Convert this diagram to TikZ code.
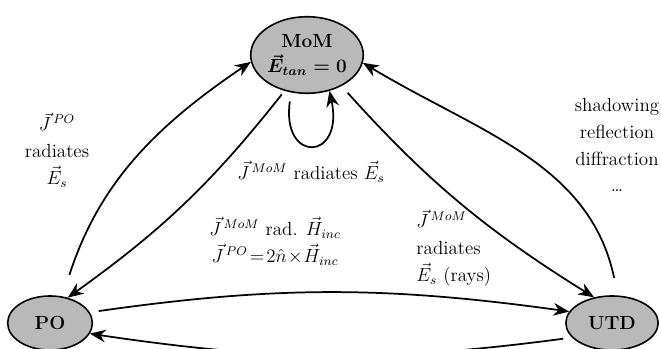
\documentclass[tikz,border=0pt]{standalone}
\usepackage{amsmath,amssymb}
\usepackage{tikz}
\usetikzlibrary{arrows.meta,shapes,positioning,calc}

\begin{document}
\begin{tikzpicture}[
    x=0.0222cm, y=-0.0222cm,
    solver/.style={ellipse, draw=black, fill=gray!55, line width=1pt, inner sep=0pt, align=center, font=\fontsize{12}{16}\selectfont\bfseries},
    lbl/.style={align=center, inner sep=1pt, font=\fontsize{12}{17}\selectfont},
    >={Stealth[length=10pt,width=8pt]},
    line width=1.1pt
]
\useasboundingbox (0,0) rectangle (661,349);

% --- Solvers ---
\node[solver, minimum width=2.05cm, minimum height=1.7cm] (mom) at (307,55) {MoM\\$\boldsymbol{\vec{E}_{tan}=0}$};
\node[solver, minimum width=1.88cm, minimum height=1.2cm] (po) at (50,323) {PO};
\node[solver, minimum width=2.05cm, minimum height=1.2cm] (utd) at (612,323) {UTD};

% --- Labels ---
\node[lbl] (lpo) at (57,150) {$\vec{J}^{\,PO}$\\radiates\\$\vec{E}_s$};
\node[lbl] (lmom) at (311,172) {$\vec{J}^{\,MoM}$ radiates $\vec{E}_s$};
\node[lbl] (lmompo) at (275,241) {$\vec{J}^{\,MoM}$ rad. $\vec{H}_{inc}$\\$\vec{J}^{\,PO}\!=\!2\hat{n}\!\times\!\vec{H}_{inc}$};
\node[lbl, align=left, anchor=west] (lmomutd) at (414,248) {$\vec{J}^{\,MoM}$\\radiates\\$\vec{E}_s$ (rays)};
\node[lbl] (lutd) at (617,145) {shadowing\\reflection\\diffraction\\\dots};

% Arrows
\draw[->, shorten <=5mm] (po.65) to[out=72, in=214] (mom.187);
\draw[->, shorten <=1mm] (mom.238) to[bend left=8] (po.55);
\draw[->, shorten <=2mm] (mom.247) .. controls +(262:1.6cm) and +(282:1.6cm) .. (mom.302);
\draw[->, shorten <=2mm] (mom.318) to[bend right=8] (utd.125);
\draw[->, shorten <=4mm] (utd.78) to[out=102, in=329] (mom.-8);
\draw[->, shorten <=2mm] (po.15) to[bend left=8] (utd.165);
\draw[->, shorten <=2mm] (utd.200) to[bend left=8] (po.345);

\end{tikzpicture}
\end{document}
